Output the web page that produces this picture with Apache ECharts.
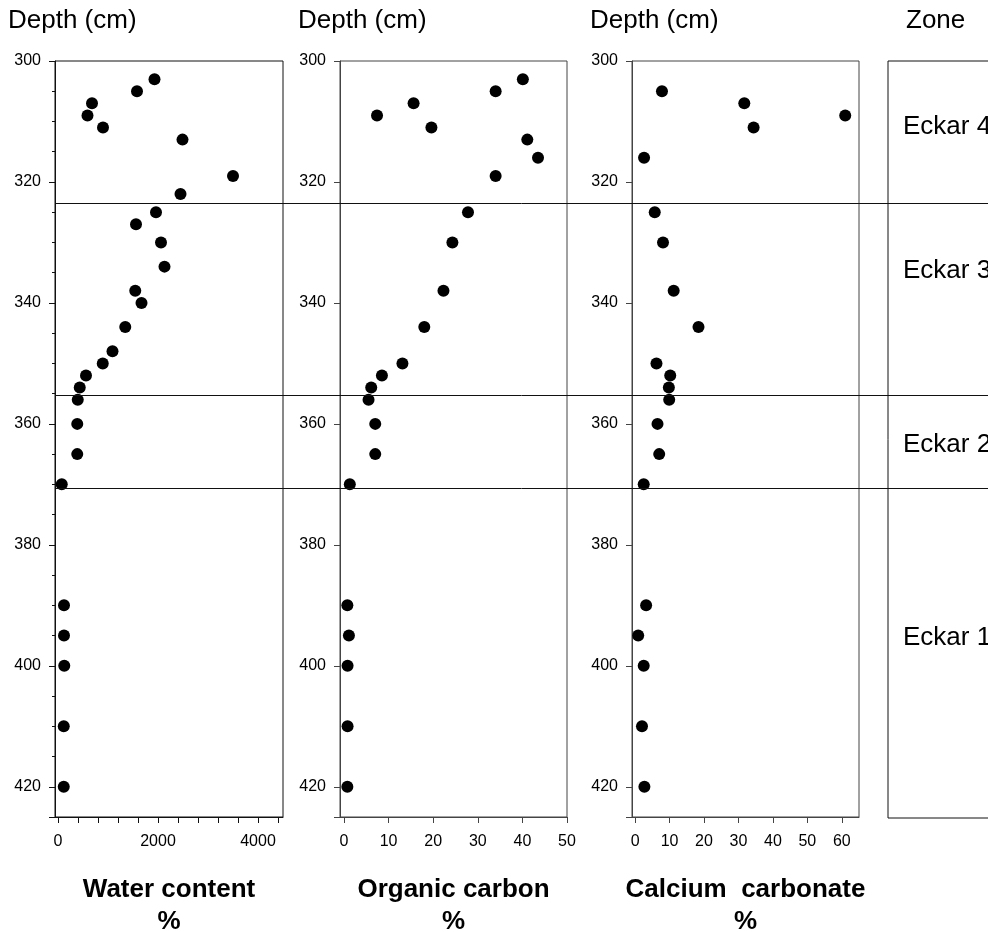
<!DOCTYPE html>
<html>
<head>
<meta charset="utf-8">
<script src="https://cdn.jsdelivr.net/npm/echarts@6/dist/echarts.min.js"></script>
<style>html,body{margin:0;padding:0;background:#fff}#c{width:988px;height:932px}</style>
</head>
<body>
<div id="c"></div>
<script>
// ---- data ----
const depthWater = [303,305,307,309,311,313,319,322,325,327,330,334,338,340,344,348,350,352,354,356,360,365,370,390,395,400,410,420];
const waterContent = [1930,1580,680,590,900,2490,3500,2450,1960,1560,2060,2130,1545,1670,1345,1090,895,560,435,395,385,385,75,120,120,125,115,115];

const depthOrganic = [303,305,307,309,311,313,316,319,325,330,338,344,350,352,354,356,360,365,370,390,395,400,410,420];
const organicCarbon = [40.1,34.0,15.6,7.4,19.6,41.1,43.5,34.0,27.8,24.3,22.3,18.0,13.1,8.5,6.1,5.5,7.0,7.0,1.3,0.75,1.1,0.8,0.8,0.75];

const depthCalcium = [305,307,309,311,316,325,330,338,344,350,352,354,356,360,365,370,390,395,400,410,420];
const calciumCarbonate = [7.8,31.7,61.0,34.4,2.6,5.7,8.1,11.2,18.4,6.2,10.2,9.8,9.9,6.5,7.0,2.5,3.2,0.9,2.5,2.0,2.7];

const zoneBoundaries = [323.5, 355.3, 370.6];
const zoneNames = ['Eckar 4','Eckar 3','Eckar 2','Eckar 1'];
const zoneLabelDepths = [310.8, 334.6, 363.3, 395.3];

const waterTicks = [0,400,800,1200,1600,2000,2400,2800,3200,3600,4000,4400];
const waterLabels = [0,2000,4000];
const organicTicks = [0,10,20,30,40,50];
const calciumTicks = [0,10,20,30,40,50,60];
const depthLabels = [300,320,340,360,380,400,420];

const panelTitles = ['Water content\n%','Organic carbon\n%','Calcium  carbonate\n%'];
const depthTitle = 'Depth (cm)';
const zoneTitle = 'Zone';

// ---- chart ----
const FONT = 'Liberation Sans, Arial, Helvetica, sans-serif';
const chart = echarts.init(document.getElementById('c'), null, {renderer:'canvas'});

const G = {top:61, bottom:115};
function yAx(gridIndex, color, minor){
  return {
    type:'value', gridIndex, inverse:true, min:300, max:425, interval:20,
    axisLine:{show:true, onZero:false, lineStyle:{color, width:1}},
    axisTick:{show:true, inside:false, length:6, lineStyle:{color}},
    minorTick:{show:!!minor, splitNumber:4, length:3, lineStyle:{color}},
    axisLabel:{show:true, margin:14, fontSize:16, color:'#000', fontFamily:FONT,
      customValues: depthLabels, formatter:v=>String(v)},
    splitLine:{show:false}, minorSplitLine:{show:false}
  };
}
function xAx(gridIndex, color, min, max, ticks, labels, name){
  return {
    type:'value', gridIndex, min, max, position:'bottom',
    axisLine:{show:true, onZero:false, lineStyle:{color, width:1}},
    axisTick:{show:true, inside:false, length:6, lineStyle:{color}, customValues:ticks},
    axisLabel:{show:true, margin:17, fontSize:16, color:'#000', fontFamily:FONT, customValues:labels, formatter:v=>String(v)},
    splitLine:{show:false},
    name, nameLocation:'middle', nameGap:57,
    nameTextStyle:{fontSize:26, fontWeight:'bold', color:'#000', fontFamily:FONT, lineHeight:32}
  };
}
const titleStyle = {fontSize:26, fontWeight:'normal', color:'#000', fontFamily:FONT};
const gridBase = {top:G.top, bottom:G.bottom, outerBoundsMode:'none', containLabel:false, backgroundColor:'transparent'};

const option = {
  backgroundColor:'#fff',
  animation:false,
  textStyle:{fontFamily:FONT},
  title:[
    {text:depthTitle, left:8, top:8, padding:0, textStyle:titleStyle},
    {text:depthTitle, left:298, top:8, padding:0, textStyle:titleStyle},
    {text:depthTitle, left:590, top:8, padding:0, textStyle:titleStyle},
    {text:zoneTitle, left:906, top:8, padding:0, textStyle:titleStyle}
  ],
  grid:[
    Object.assign({}, gridBase, {left:55, width:228, show:true, borderColor:'#111', borderWidth:1}),
    Object.assign({}, gridBase, {left:340, width:227, show:true, borderColor:'#444', borderWidth:1}),
    Object.assign({}, gridBase, {left:632, width:227, show:true, borderColor:'#444', borderWidth:1}),
    Object.assign({}, gridBase, {left:888, width:150, bottom:G.bottom-1, show:true, borderColor:'#111', borderWidth:1}),
    Object.assign({}, gridBase, {left:55, right:0, show:false})
  ],
  xAxis:[
    xAx(0,'#111',-60,4500,waterTicks,waterLabels,panelTitles[0]),
    xAx(1,'#444',-0.9,50,organicTicks,organicTicks,panelTitles[1]),
    xAx(2,'#444',-0.9,65,calciumTicks,calciumTicks,panelTitles[2]),
    {type:'value', gridIndex:3, min:0, max:1, show:false},
    {type:'value', gridIndex:4, min:0, max:1, show:false}
  ],
  yAxis:[
    yAx(0,'#111',true),
    yAx(1,'#444',false),
    yAx(2,'#444',false),
    {type:'value', gridIndex:3, inverse:true, min:300, max:425, show:false},
    {type:'value', gridIndex:4, inverse:true, min:300, max:425, show:false}
  ],
  series:[
    {type:'scatter', xAxisIndex:0, yAxisIndex:0, symbolSize:12, itemStyle:{color:'#000', opacity:1},
      data: waterContent.map((v,i)=>[v, depthWater[i]])},
    {type:'scatter', xAxisIndex:1, yAxisIndex:1, symbolSize:12, itemStyle:{color:'#000', opacity:1},
      data: organicCarbon.map((v,i)=>[v, depthOrganic[i]])},
    {type:'scatter', xAxisIndex:2, yAxisIndex:2, symbolSize:12, itemStyle:{color:'#000', opacity:1},
      data: calciumCarbonate.map((v,i)=>[v, depthCalcium[i]])},
    {type:'scatter', xAxisIndex:3, yAxisIndex:3, symbolSize:0, silent:true, itemStyle:{opacity:1},
      data: zoneNames.map((n,i)=>({value:[0, zoneLabelDepths[i]], name:n})),
      label:{show:true, position:'right', distance:15, formatter:p=>p.name, fontSize:26, color:'#000', opacity:1, fontFamily:FONT}},
    {type:'scatter', xAxisIndex:4, yAxisIndex:4, data:[], silent:true,
      markLine:{silent:true, symbol:'none', animation:false, label:{show:false},
        lineStyle:{color:'#111', width:1, type:'solid', opacity:1},
        data: zoneBoundaries.map(v=>({yAxis:v}))}}
  ]
};
chart.setOption(option);
</script>
</body>
</html>
